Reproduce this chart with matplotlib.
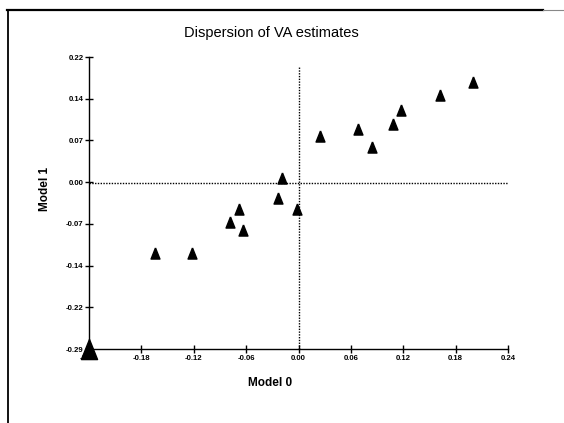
import matplotlib
matplotlib.use("Agg")
import matplotlib.pyplot as plt
from matplotlib.lines import Line2D
import numpy as np

# Data
model0 = [-0.164, -0.122, -0.0785, -0.068, -0.064, -0.0235, -0.0017, -0.019,
          0.0246, 0.068, 0.084, 0.108, 0.117, 0.162, 0.200]
model1 = [-0.122, -0.122, -0.068, -0.0455, -0.082, -0.026, -0.0455, 0.0086,
          0.082, 0.094, 0.063, 0.103, 0.127, 0.154, 0.176]
corner_x = [-0.24]
corner_y = [-0.29]

xticks = [-0.24, -0.18, -0.12, -0.06, 0.00, 0.06, 0.12, 0.18, 0.24]
xticklabels = ["-0.24", "-0.18", "-0.12", "-0.06", "0.00", "0.06", "0.12", "0.18", "0.24"]
yticklabels = ["-0.29", "-0.22", "-0.14", "-0.07", "0.00", "0.07", "0.14", "0.22"]

font = ["Liberation Sans", "DejaVu Sans"]

W, H = 564, 423
fig = plt.figure(figsize=(W / 100, H / 100), dpi=100)
fig.patch.set_facecolor("white")

left, right, top, bottom = 89 / W, 508 / W, 1 - 57 / H, 1 - 349 / H
ax = fig.add_axes([left, bottom, right - left, top - bottom])
ax.set_xlim(-0.24, 0.24)
ax.set_ylim(-0.29, 0.22)

tri = [(0, 1), (-0.8, -1), (0.8, -1), (0, 1)]

# reference lines
ax.axhline(0, xmin=0, xmax=1, color="black", lw=1.0, ls=(0, (1, 1)), zorder=1)
ax.plot([0, 0], [-0.29, 0.203], color="black", lw=1.0, ls=(0, (1, 1)), zorder=1)

ax.plot(model0, model1, ls="none", marker=tri, ms=8, color="black", zorder=3)
ax.plot(corner_x, corner_y, ls="none", marker=tri, ms=14.5, color="black",
        zorder=2, clip_on=False)

for s in ["top", "right"]:
    ax.spines[s].set_visible(False)
for s in ["left", "bottom"]:
    ax.spines[s].set_linewidth(1.0)
    ax.spines[s].set_color("black")

ax.set_xticks(xticks)
ax.set_xticklabels(xticklabels)
ax.set_yticks(np.linspace(-0.29, 0.22, 8))
ax.set_yticklabels(yticklabels)
ax.tick_params(direction="inout", length=6, width=1.0, pad=1, colors="black")
for lab in ax.get_xticklabels() + ax.get_yticklabels():
    lab.set_family(font)
    lab.set_fontweight("bold")
    lab.set_fontsize(5.6)

fig.text(271 / W, 1 - 33 / H, "Dispersion of VA estimates", ha="center", va="center",
         fontsize=10.5, family=font)
fig.text(270 / W, 1 - 383 / H, "Model 0", ha="center", va="center",
         fontsize=8.5, fontweight="bold", family=font)
fig.text(45 / W, 1 - 189 / H, "Model 1", ha="center", va="center", rotation=90,
         fontsize=8.5, fontweight="bold", family=font)

# frame lines of the original figure
fig.add_artist(Line2D([7 / W, 543 / W], [1 - 10 / H, 1 - 10 / H], color="black",
                      lw=1.6, transform=fig.transFigure))
fig.add_artist(Line2D([543 / W, 1.0], [1 - 10 / H, 1 - 10 / H], color="#888888",
                      lw=0.8, transform=fig.transFigure))
fig.add_artist(Line2D([8 / W, 8 / W], [0, 1 - 10 / H], color="black",
                      lw=1.3, transform=fig.transFigure))

fig.savefig("out.png", dpi=100, facecolor="white")
